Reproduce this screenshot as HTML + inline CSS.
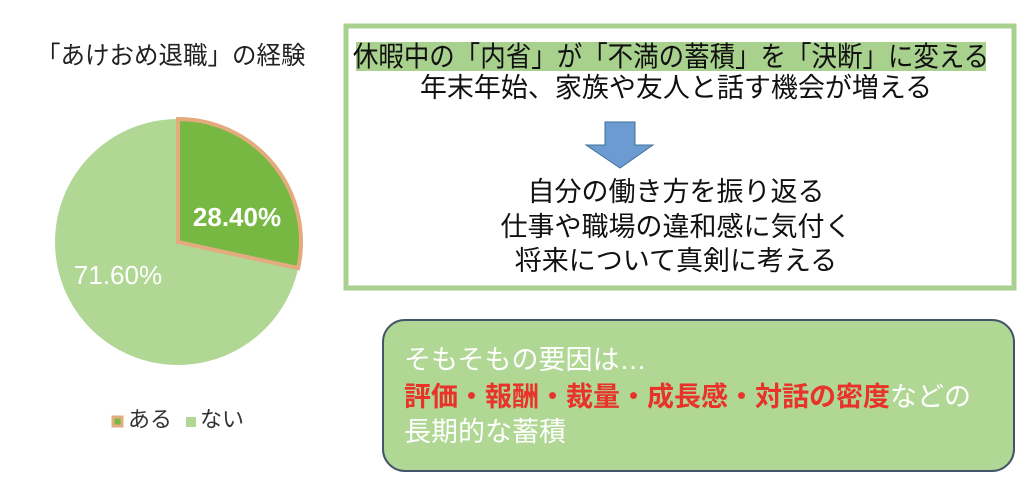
<!DOCTYPE html>
<html><head><meta charset="utf-8"><style>
body{margin:0;width:1024px;height:482px;background:#fff;position:relative;overflow:hidden;font-family:"Liberation Sans","Noto Sans CJK JP",sans-serif;}
.t{position:absolute;white-space:nowrap;line-height:1;}
.c{text-align:center;width:1000px;}
</style></head><body>
<div class="t" style="left:36px;top:44px;font-size:25px;color:#222;transform:scaleX(0.98);transform-origin:left;">「あけおめ退職」の経験</div>
<svg style="position:absolute;left:0;top:0" width="1024" height="482">
<circle cx="178" cy="242" r="123" fill="#b0d793"/>
<path d="M178,242 L178,119 A123,123 0 0 1 298.2,268.1 Z" fill="#77b843" stroke="#e3ab7e" stroke-width="4" stroke-linejoin="miter"/>
<text x="237" y="226" font-size="26" font-weight="bold" fill="#fff" text-anchor="middle" font-family="Liberation Sans, sans-serif">28.40%</text>
<text x="118" y="284" font-size="26" fill="#fff" text-anchor="middle" font-family="Liberation Sans, sans-serif">71.60%</text>
<rect x="113" y="417" width="9" height="9" fill="#77b843" stroke="#e3ab7e" stroke-width="3"/>
<rect x="186" y="417" width="10" height="10" fill="#b0d793"/>
<rect x="346" y="26" width="668" height="262" fill="#fff" stroke="#a9d18e" stroke-width="5"/>
<rect x="356" y="42" width="630" height="29" fill="#a9d18e"/>
<polygon points="605,122 635,122 635,145 653,145 620,168 586,145 605,145" fill="#6b9bd1" stroke="#41719c" stroke-width="1"/>
<rect x="383" y="320" width="631" height="151" rx="22" fill="#b0d793" stroke="#44546a" stroke-width="2"/>
</svg>
<div class="t" style="left:128px;top:409px;font-size:22px;color:#333;">ある</div>
<div class="t" style="left:200px;top:409px;font-size:22px;color:#333;">ない</div>
<div class="t c" style="left:171px;top:43px;font-size:28px;color:#111;transform:scaleX(0.91);transform-origin:center;">休暇中の「内省」が「不満の蓄積」を「決断」に変える</div>
<div class="t c" style="left:176px;top:75px;font-size:27px;color:#111;">年末年始、家族や友人と話す機会が増える</div>
<div class="t c" style="left:176px;top:179px;font-size:27px;color:#111;">自分の働き方を振り返る</div>
<div class="t c" style="left:176px;top:214px;font-size:27px;color:#111;">仕事や職場の違和感に気付く</div>
<div class="t c" style="left:176px;top:248px;font-size:27px;color:#111;">将来について真剣に考える</div>
<div class="t" style="left:404px;top:347px;font-size:27px;color:#fff;">そもそもの要因は…</div>
<div class="t" style="left:404px;top:384px;font-size:27px;color:#fff;"><span style="color:#e8322a;font-weight:bold;">評価・報酬・裁量・成長感・対話の密度</span>などの</div>
<div class="t" style="left:404px;top:419px;font-size:27px;color:#fff;">長期的な蓄積</div>
</body></html>
